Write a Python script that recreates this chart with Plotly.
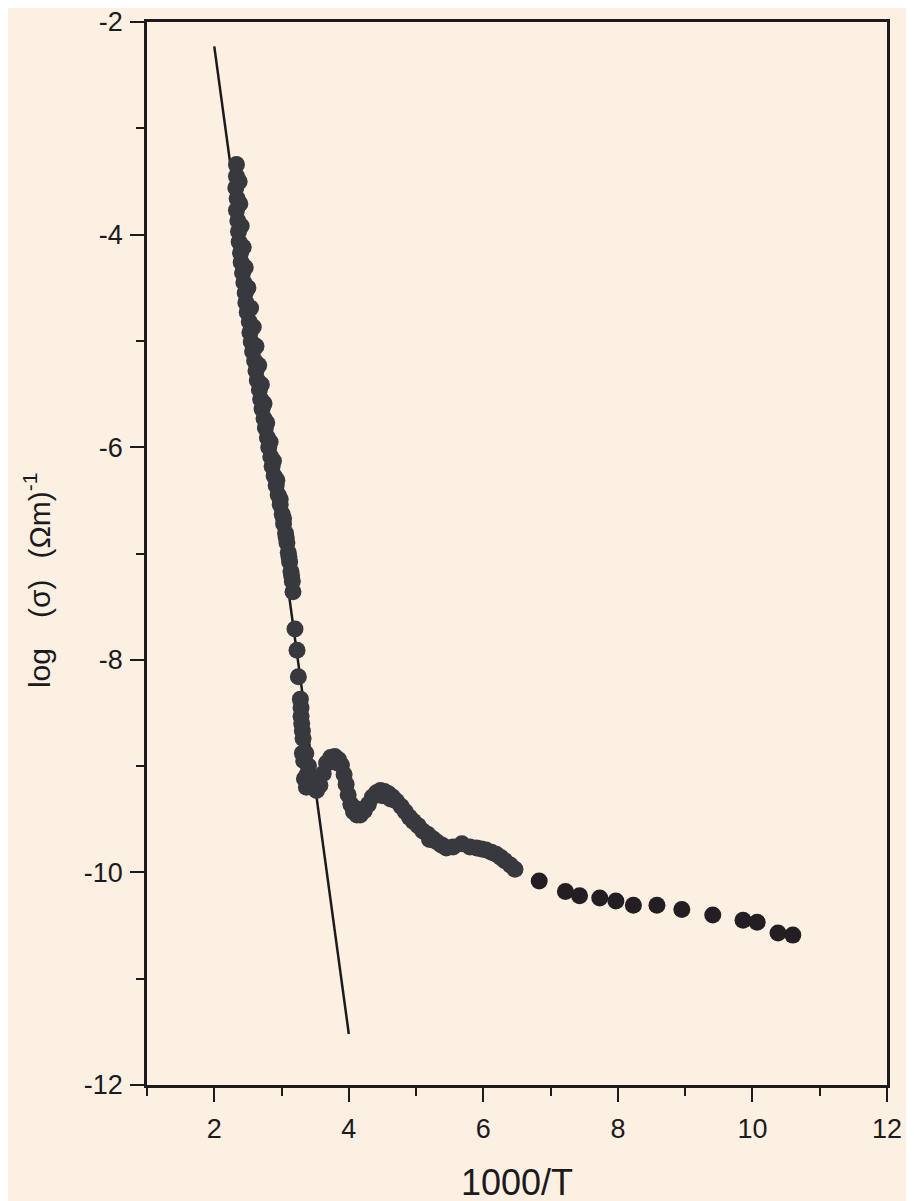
import plotly.graph_objects as go

# ---- data ----
# dense (measured) points, 1000/T vs log(sigma)
dense_x = [2.33, 2.33, 2.32, 2.34, 2.33, 2.35, 2.36, 2.37, 2.39, 2.40, 2.42, 2.44, 2.46, 2.47,
           2.49, 2.52, 2.53, 2.55, 2.57, 2.60, 2.62, 2.64, 2.67, 2.69, 2.71, 2.74, 2.76, 2.79,
           2.81, 2.84, 2.86, 2.89, 2.92, 2.95, 2.98, 3.01, 3.03, 3.06, 3.08, 3.10, 3.12, 3.14,
           3.16, 3.17,
           3.20, 3.23, 3.25,
           3.28, 3.29, 3.29, 3.30, 3.31, 3.32, 3.31, 3.33, 3.36, 3.40, 3.38, 3.42, 3.47, 3.52,
           3.57, 3.62, 3.67, 3.73, 3.79, 3.85, 3.89, 3.93, 3.96, 3.99, 4.03, 4.07, 4.12, 4.17,
           4.23, 4.29, 4.35, 4.41, 4.47, 4.53, 4.59, 4.65, 4.71, 4.78, 4.84, 4.90, 4.96, 5.03,
           5.10, 5.17, 5.24, 5.30, 5.37, 5.45, 5.55, 5.68, 5.80, 5.90, 5.97, 6.04, 6.12, 6.19,
           6.26, 6.32, 6.40, 6.47]
dense_y = [-3.34, -3.45, -3.56, -3.66, -3.77, -3.87, -3.97, -4.07, -4.17, -4.26, -4.36, -4.45, -4.55, -4.64,
           -4.73, -4.82, -4.92, -5.01, -5.10, -5.19, -5.28, -5.37, -5.46, -5.55, -5.64, -5.73, -5.82, -5.91,
           -6.00, -6.09, -6.18, -6.27, -6.36, -6.45, -6.54, -6.63, -6.72, -6.81, -6.90, -6.99, -7.08, -7.17,
           -7.26, -7.36,
           -7.71, -7.91, -8.16,
           -8.37, -8.45, -8.53, -8.60, -8.67, -8.74, -8.88, -8.95, -8.88, -9.00, -9.08, -9.09, -9.18, -9.23,
           -9.18, -9.07, -8.97, -8.92, -8.91, -8.94, -8.99, -9.08, -9.17, -9.27, -9.36, -9.43, -9.46, -9.46,
           -9.42, -9.36, -9.29, -9.25, -9.23, -9.24, -9.26, -9.29, -9.33, -9.38, -9.43, -9.48, -9.52, -9.56,
           -9.61, -9.64, -9.68, -9.71, -9.74, -9.77, -9.76, -9.73, -9.76, -9.77, -9.78, -9.79, -9.81, -9.83,
           -9.86, -9.89, -9.93, -9.97]

# second row of overlapping points that thickens the steep band
band_x = [2.37, 2.38, 2.40, 2.43, 2.46, 2.50, 2.54, 2.58, 2.62, 2.66, 2.70, 2.74, 2.78, 2.83,
          2.88, 2.93, 2.98, 3.03, 3.07, 3.11, 3.15, 3.34, 3.37, 3.44, 3.75, 3.83, 4.10, 4.20,
          4.50, 4.62, 5.20, 5.40]
band_y = [-3.50, -3.71, -3.92, -4.12, -4.31, -4.50, -4.69, -4.87, -5.05, -5.23, -5.41, -5.59, -5.77, -5.95,
          -6.13, -6.31, -6.49, -6.67, -6.85, -7.03, -7.21, -9.12, -9.20, -9.13, -8.96, -8.97, -9.40, -9.41,
          -9.28, -9.31, -9.69, -9.75]

# sparse points at low temperature
sparse_x = [6.83, 7.22, 7.43, 7.73, 7.97, 8.23, 8.58, 8.95, 9.41, 9.86, 10.07, 10.38, 10.60]
sparse_y = [-10.08, -10.18, -10.22, -10.24, -10.27, -10.31, -10.31, -10.35, -10.40, -10.45, -10.47, -10.57, -10.59]

# straight-line (Arrhenius) fit
fit_x = [2.0, 4.0]
fit_y = [-2.23, -11.52]

x_major = [2, 4, 6, 8, 10, 12]
x_major_text = ["2", "4", "6", "8", "10", "12"]
x_minor = [1, 3, 5, 7, 9, 11]
y_major = [-12, -10, -8, -6, -4, -2]
y_major_text = ["-12", "-10", "-8", "-6", "-4", "-2"]
y_minor = [-11, -9, -7, -5, -3]

x_title = "1000/T"
y_title = "log\u2003(\u03c3)\u2002\u2009(\u03a9m)<sup>-1</sup>"

BG = "#FBF0E2"
INK = "#1c1a1c"
FONT = "Liberation Sans, Arial, Helvetica, sans-serif"

fig = go.Figure()
fig.add_trace(go.Scatter(x=fit_x, y=fit_y, mode="lines",
                         line=dict(color=INK, width=2.5), showlegend=False, hoverinfo="skip"))
fig.add_trace(go.Scatter(x=dense_x + band_x, y=dense_y + band_y, mode="markers",
                         marker=dict(size=17, color="#38383f", line=dict(width=0)),
                         showlegend=False))
fig.add_trace(go.Scatter(x=sparse_x, y=sparse_y, mode="markers",
                         marker=dict(size=17, color="#221e22", line=dict(width=0)),
                         showlegend=False))

axis_common = dict(
    showline=True, linecolor=INK, linewidth=2.5, mirror=True,
    showgrid=False, zeroline=False, automargin=False,
    ticks="outside", ticklen=14, tickwidth=2, tickcolor=INK,
    tickfont=dict(family=FONT, size=27, color=INK),
    ticklabeloverflow="allow",
)

# the page body adds an 8px offset, so margins are reduced accordingly
fig.update_layout(
    width=914, height=1201,
    paper_bgcolor=BG, plot_bgcolor=BG,
    margin=dict(l=139, r=35, t=14, b=124),
    font=dict(family=FONT, color=INK),
    xaxis=dict(
        range=[1, 12], tickmode="array", tickvals=x_major, ticktext=x_major_text,
        minor=dict(tickmode="array", tickvals=x_minor, ticks="outside", ticklen=8,
                   tickwidth=2, tickcolor=INK, showgrid=False),
        ticklabelstandoff=4,
        title=dict(text=x_title, font=dict(family=FONT, size=36, color=INK), standoff=27),
        **axis_common,
    ),
    yaxis=dict(
        range=[-12, -2], tickmode="array", tickvals=y_major, ticktext=y_major_text,
        minor=dict(tickmode="array", tickvals=y_minor, ticks="outside", ticklen=8,
                   tickwidth=2, tickcolor=INK, showgrid=False),
        ticklabelstandoff=2,
        **axis_common,
    ),
    annotations=[dict(
        text=y_title, textangle=-90, showarrow=False,
        xref="paper", yref="paper", x=-0.1486, y=0.475,
        xanchor="center", yanchor="middle",
        font=dict(family=FONT, size=30, color=INK),
    )],
)

fig.write_html("out.html")
